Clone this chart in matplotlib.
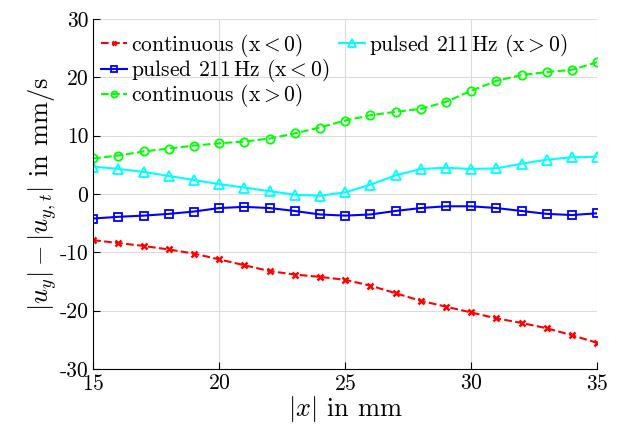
import numpy as np
import matplotlib
matplotlib.use("Agg")
import matplotlib.pyplot as plt
from matplotlib.lines import Line2D

plt.rcParams['font.family'] = 'serif'
plt.rcParams['font.serif'] = ['cmr10']
plt.rcParams['mathtext.fontset'] = 'cm'
plt.rcParams['axes.formatter.use_mathtext'] = True

x_mm = np.arange(15, 36)

# continuous, x < 0
cont_neg = [-7.9, -8.4, -8.9, -9.5, -10.2, -11.2, -12.2, -13.2, -13.8, -14.2, -14.7,
            -15.7, -17.0, -18.3, -19.3, -20.3, -21.3, -22.1, -23.0, -24.2, -25.5]
# pulsed 211 Hz, x < 0
puls_neg = [-4.2, -3.9, -3.7, -3.4, -3.0, -2.4, -2.2, -2.4, -2.9, -3.5, -3.7,
            -3.5, -2.9, -2.4, -2.1, -2.1, -2.4, -2.9, -3.4, -3.6, -3.3]
# continuous, x > 0
cont_pos = [6.1, 6.6, 7.3, 7.8, 8.3, 8.7, 9.0, 9.5, 10.4, 11.4, 12.6,
            13.5, 14.1, 14.6, 15.8, 17.7, 19.4, 20.4, 20.9, 21.3, 22.6]
# pulsed 211 Hz, x > 0
puls_pos = [4.7, 4.3, 3.8, 3.1, 2.4, 1.7, 1.1, 0.5, -0.1, -0.3, 0.3,
            1.6, 3.2, 4.3, 4.5, 4.3, 4.4, 5.2, 5.9, 6.3, 6.4]

fig = plt.figure(figsize=(6.38, 4.42), dpi=100)
ax = fig.add_axes([0.146, 0.165, 0.79, 0.792])

l1, = ax.plot(x_mm, cont_neg, '--', color='#ff0000', lw=1.5, marker='x', ms=4.5, mew=1.8,
              label=r'continuous (x$<0$)')
l2, = ax.plot(x_mm, puls_neg, '-', color='#0000ff', lw=1.5, marker='s', ms=6, mfc='none', mew=1.3,
              label=r'pulsed 211$\,$Hz (x$<0$)')
l3, = ax.plot(x_mm, cont_pos, '--', color='#00ff00', lw=1.5, marker='o', ms=6, mfc='none', mew=1.3,
              label=r'continuous (x$>0$)')
l4, = ax.plot(x_mm, puls_pos, '-', color='#00ffff', lw=1.5, marker='^', ms=7, mfc='none', mew=1.3,
              label=r'pulsed 211$\,$Hz (x$>0$)')

ax.set_xlim(15, 35)
ax.set_ylim(-30, 30)
ax.set_xticks([15, 20, 25, 30, 35])
ax.set_yticks([-30, -20, -10, 0, 10, 20, 30])
ax.set_yticklabels(['-30', '-20', '-10', '0', '10', '20', '30'])
ax.grid(True, color='#dcdcdc', lw=0.8)
ax.set_axisbelow(True)
ax.spines['top'].set_visible(False)
ax.spines['right'].set_visible(False)
ax.tick_params(direction='in', labelsize=15.5, length=5)

ax.set_xlabel(r'$|x|$ in mm', fontsize=19, labelpad=0)
ax.set_ylabel(r'$|u_y|-|u_{y,t}|$ in mm/s', fontsize=19, labelpad=0)

# blank entries so the first column holds three items
blank = Line2D([], [], linestyle='none', marker='none')
ax.legend(handles=[l1, l2, l3, l4, blank, blank],
          labels=[l1.get_label(), l2.get_label(), l3.get_label(), l4.get_label(), '', ''],
          ncol=2, frameon=False, fontsize=15.5, markerscale=0.75,
          loc='upper left', bbox_to_anchor=(-0.01, 1.0), handlelength=1.2,
          handletextpad=0.2, columnspacing=0.45, labelspacing=-0.08, borderaxespad=0.2)

fig.savefig('out.png', dpi=100)
